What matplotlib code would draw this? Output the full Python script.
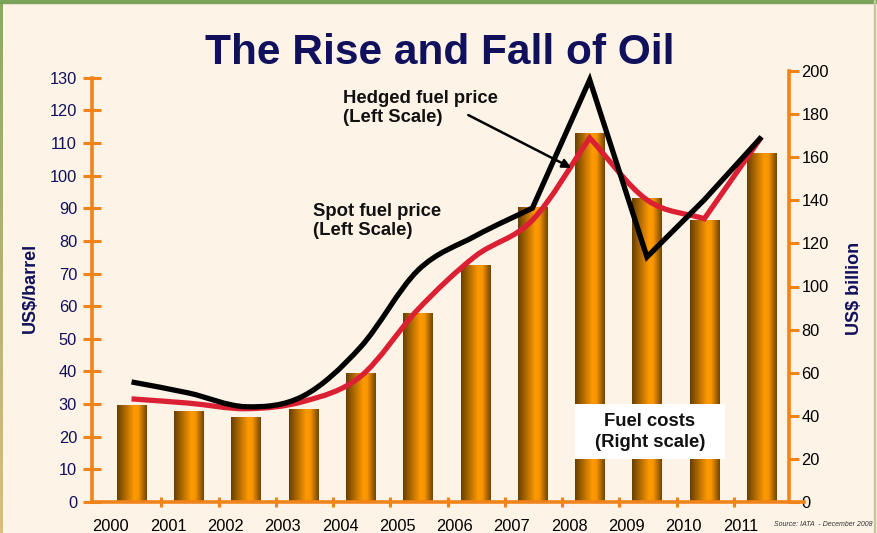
import numpy as np
import matplotlib
matplotlib.use("Agg")
import matplotlib.pyplot as plt
from matplotlib.colors import LinearSegmentedColormap
from matplotlib.patches import PathPatch, Rectangle
from matplotlib.path import Path

plt.rcParams['font.family'] = ['Liberation Sans', 'DejaVu Sans']

# ---- data ----
years = ["2000", "2001", "2002", "2003", "2004", "2005",
         "2006", "2007", "2008", "2009", "2010", "2011"]
fuel_costs = [45, 42, 39.5, 43, 60, 87.5, 110, 137, 171, 141, 131, 162]   # US$ billion
spot_price = [36.8, 33.4, 29.2, 32.5, 47.5, 71, 81.5, 90.1, 129.4, 75.1, 92.6, 111.9]
hedged_price = [31.6, 30.3, 28.6, 30.8, 38.5, 59, 75.3, 86.4, 111.6, 92.6, 86.8, 111.9]

# how each line is drawn: (first index, last index, smoothed?)
spot_pieces = [(0, 7, True), (7, 11, False)]
hedged_pieces = [(0, 8, True), (8, 10, True), (10, 11, False)]

W, H = 878, 533
ORANGE = "#f0841a"
NAVY = "#10105c"
BG = "#fdf4e7"


def fx(px):
    return px / W


def fy(py):
    return 1 - py / H


def line_path(xs, ys, pieces):
    """Excel-like smoothed line: Catmull-Rom segments turned into cubic Beziers."""
    pts = np.column_stack([xs, ys]).astype(float)
    verts, codes = [pts[pieces[0][0]]], [Path.MOVETO]
    for a, b, smooth in pieces:
        if not smooth:
            for j in range(a + 1, b + 1):
                verts.append(pts[j])
                codes.append(Path.LINETO)
            continue
        seg = pts[a:b + 1]
        n = len(seg)
        tang = np.zeros_like(seg)
        for j in range(n):
            if j == 0:
                tang[j] = seg[1] - seg[0]
            elif j == n - 1:
                tang[j] = seg[-1] - seg[-2]
            else:
                tang[j] = (seg[j + 1] - seg[j - 1]) / 2
        for j in range(n - 1):
            verts += [seg[j] + tang[j] / 3, seg[j + 1] - tang[j + 1] / 3, seg[j + 1]]
            codes += [Path.CURVE4] * 3
    return Path(verts, codes)


fig = plt.figure(figsize=(W / 100, H / 100), dpi=100)
fig.patch.set_facecolor(BG)

# slide frame
fig.patches.append(Rectangle((0, fy(3)), 1, 3 / H, transform=fig.transFigure,
                             color="#7aa35a", zorder=0))
edge = fig.add_axes([0, 0, 3 / W, 1 - 3 / H])
edge.imshow(np.linspace(0, 1, 100).reshape(-1, 1), aspect="auto",
            cmap=LinearSegmentedColormap.from_list("e", ["#8aab5c", "#d9bf78"]))
edge.set_axis_off()
fig.patches.append(Rectangle((fx(874), 0), 1.5 / W, 1, transform=fig.transFigure,
                             color="#c9c79a", zorder=0))

# axes: left scale for prices, right scale for fuel costs
x = np.arange(len(years))
xmin, xmax = -0.69, 11.48
ax = fig.add_axes([fx(92), 31 / H, 697 / W, 431 / H])
axr = ax.twinx()
ax.set_zorder(axr.get_zorder() + 1)
ax.patch.set_visible(False)
axr.patch.set_visible(False)

# bars with a cylinder-like shading
bar_cmap = LinearSegmentedColormap.from_list(
    "bar", [(0, "#6a4000"), (0.58, "#ff9a00"), (0.72, "#f79400"), (1, "#744600")])
grad = np.linspace(0, 1, 64).reshape(1, -1)
bars = axr.bar(x, fuel_costs, width=0.51, color="none", edgecolor="none")
for rect in bars:
    x0, w, h = rect.get_x(), rect.get_width(), rect.get_height()
    im = axr.imshow(grad, extent=[x0, x0 + w, 0, h], aspect="auto",
                    cmap=bar_cmap, zorder=2, interpolation="bilinear")
    im.set_clip_path(rect)

# price lines
ax.add_patch(PathPatch(line_path(x, hedged_price, hedged_pieces), fill=False,
                       edgecolor="#dc2034", lw=3.8, capstyle="butt", joinstyle="miter",
                       zorder=3))
ax.add_patch(PathPatch(line_path(x, spot_price, spot_pieces), fill=False,
                       edgecolor="black", lw=3.8, capstyle="butt", joinstyle="miter",
                       zorder=4))

ax.set_xlim(xmin, xmax)
axr.set_xlim(xmin, xmax)
ax.set_ylim(0, 132.1)
axr.set_ylim(0, 200)

# spines
for a in (ax, axr):
    for s in a.spines.values():
        s.set_visible(False)
ax.spines["left"].set_visible(True)
ax.spines["bottom"].set_visible(True)
axr.spines["right"].set_visible(True)
for s in (ax.spines["left"], ax.spines["bottom"], axr.spines["right"]):
    s.set_color(ORANGE)
    s.set_linewidth(2.6)
ax.spines["left"].set_bounds(0, 130)
ax.spines["bottom"].set_bounds(xmin, xmax + 0.26)

# ticks
ax.set_yticks(np.arange(0, 131, 10))
ax.tick_params(axis="y", direction="inout", length=13.5, width=2.2, color=ORANGE,
               labelsize=11.8, labelcolor=NAVY, pad=4)
axr.set_yticks(np.arange(0, 201, 20))
axr.tick_params(axis="y", direction="out", length=7.5, width=2.2, color=ORANGE,
                labelsize=11.8, labelcolor="black", pad=1.5)
ax.set_xticks(np.arange(0.52, 11, 1.0))
ax.set_xticks(x - 0.36, years, minor=True)
ax.tick_params(axis="x", which="major", direction="inout", length=7.5, width=2.2,
               color=ORANGE, labelbottom=False)
ax.tick_params(axis="x", which="minor", length=0, labelsize=11.8, labelcolor="black",
               pad=12.5)

# titles and labels
fig.text(fx(440), fy(53), "The Rise and Fall of Oil", ha="center", va="center",
         fontsize=30.5, fontweight="bold", color=NAVY)
fig.text(fx(30), fy(288), "US$/barrel", rotation=90, ha="center", va="center",
         fontsize=13, fontweight="bold", color=NAVY)
fig.text(fx(855), fy(288), "US$ billion", rotation=90, ha="center", va="center",
         fontsize=13, fontweight="bold", color=NAVY)

# annotations
fig.text(fx(343), fy(90), "Hedged fuel price\n(Left Scale)", ha="left", va="top",
         fontsize=13.3, fontweight="bold", color="#111111", linespacing=1.17)
ax.annotate("", xy=(7.68, 102.4), xytext=(5.88, 118.6),
            arrowprops=dict(arrowstyle="-|>", color="black", lw=1.8, mutation_scale=13,
                            shrinkA=0, shrinkB=0), zorder=6)
fig.text(fx(313), fy(203), "Spot fuel price\n(Left Scale)", ha="left", va="top",
         fontsize=13.3, fontweight="bold", color="#111111", linespacing=1.17)

fig.patches.append(Rectangle((fx(575), fy(459)), 150 / W, 55 / H,
                             transform=fig.transFigure, facecolor="white",
                             edgecolor="none", zorder=5))
fig.text(fx(650), fy(432), "Fuel costs\n(Right scale)", ha="center", va="center",
         fontsize=13.3, fontweight="bold", color="#111111", linespacing=1.28, zorder=6)

fig.text(fx(873), fy(524), "Source: IATA  - December 2008", ha="right", va="center",
         fontsize=5, style="italic", color="#333333")

fig.savefig("out.png", dpi=100, facecolor=BG)
